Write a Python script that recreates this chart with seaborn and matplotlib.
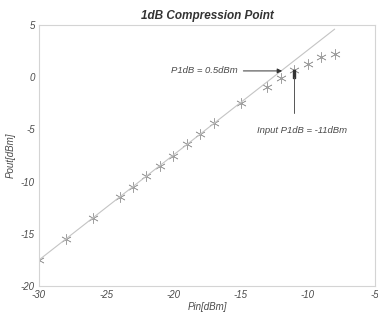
import matplotlib
matplotlib.use("Agg")
import matplotlib.pyplot as plt
import seaborn as sns

# measured points (Pin, Pout)
pin = [-30, -28, -26, -24, -23, -22, -21, -20, -19, -18, -17, -15, -13, -12, -11, -10, -9, -8]
pout = [-17.5, -15.5, -13.5, -11.5, -10.5, -9.5, -8.5, -7.5, -6.4, -5.4, -4.4, -2.5, -0.9, -0.1, 0.7, 1.3, 1.9, 2.2]

# ideal linear gain line
lin_pin = [-30, -8]
lin_pout = [-17.5, 4.6]

p1db_in = -11
p1db_out = 0.5

sns.set_style("white")
plt.rcParams["font.family"] = ["Liberation Sans", "DejaVu Sans"]
plt.rcParams["axes.unicode_minus"] = False

txt = "#4a4a4a"
fig = plt.figure(figsize=(3.78, 3.12), dpi=100)
ax = fig.add_axes([0.103, 0.083, 0.889, 0.837])

sns.lineplot(x=lin_pin, y=lin_pout, ax=ax, color="#c4c4c4", linewidth=0.8)
sns.scatterplot(x=pin, y=pout, ax=ax, marker=(6, 2, 0), s=50,
                color="#a0a0a0", edgecolor="#a0a0a0", linewidth=0.5)
ax.plot([p1db_in], [p1db_out - 0.2], marker="$\\mathbf{I}$", color="#333333",
        markersize=6, linestyle="none")

# annotations
ax.annotate("", xy=(-11.7, 0.6), xytext=(-15.0, 0.6),
            arrowprops=dict(arrowstyle="-|>", color="#333333", lw=0.7,
                            mutation_scale=7))
ax.text(-15.2, 0.6, "P1dB = 0.5dBm", ha="right", va="center", fontsize=6.8,
        style="italic", color=txt)
ax.plot([p1db_in, p1db_in], [0.0, -3.4], color="#555555", lw=0.7)
ax.text(-10.4, -5.1, "Input P1dB = -11dBm", ha="center", va="center",
        fontsize=6.8, style="italic", color=txt)

ax.set_xlim(-30, -5)
ax.set_ylim(-20, 5)
ax.set_xticks([-30, -25, -20, -15, -10, -5])
ax.set_yticks([-20, -15, -10, -5, 0, 5])
ax.tick_params(labelsize=7, colors=txt, length=0, pad=3)
for lab in ax.get_xticklabels() + ax.get_yticklabels():
    lab.set_fontstyle("italic")
for s in ax.spines.values():
    s.set_color("#d4d4d4")
    s.set_linewidth(0.8)

ax.set_title("1dB Compression Point", fontsize=8.5, fontweight="bold",
             style="italic", color="#333333", pad=4)
ax.set_xlabel("Pin[dBm]", fontsize=7, style="italic", color=txt, labelpad=1)
ax.set_ylabel("Pout[dBm]", fontsize=7, style="italic", color=txt, labelpad=4)

fig.savefig("out.png", dpi=100)
